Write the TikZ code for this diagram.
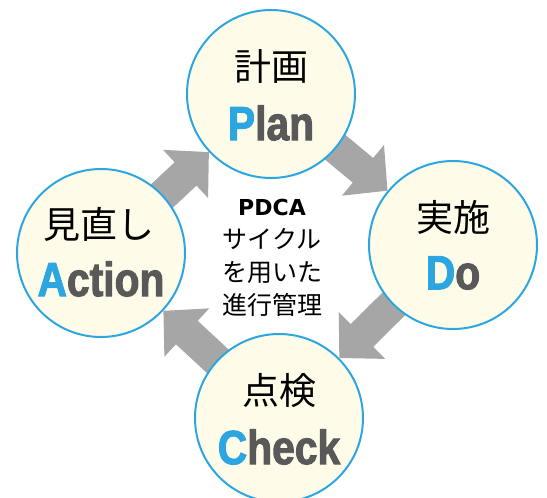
\documentclass[tikz,border=0pt]{standalone}
\usepackage{fontspec}
\usepackage{xcolor}
\usepackage{tikz}
\usetikzlibrary{arrows.meta,backgrounds}
\newfontfamily\jpfont{Noto Sans CJK JP}
\newfontfamily\latfont[FakeStretch=0.85,FakeBold=2]{Liberation Sans}
\newfontfamily\pdcafont{DejaVu Sans}
\definecolor{pblue}{HTML}{2CA6E0}
\definecolor{pgray}{HTML}{595959}
\definecolor{agray}{HTML}{A6A6A6}
\definecolor{pfill}{HTML}{FEFCE8}

\begin{document}
\begin{tikzpicture}[x=1pt,y=-1pt,
  phase/.style={circle,draw=pblue,line width=2pt,fill=pfill,minimum size=168pt,inner sep=0pt},
  jp/.style={font=\jpfont\fontsize{37}{40}\selectfont,inner sep=0pt},
  en/.style={font=\latfont\bfseries\fontsize{48}{50}\selectfont,text=pgray,inner sep=0pt},
  cyc/.style={line width=32pt,draw=agray,shorten <=-6pt,-{Triangle[length=32pt,width=64pt]}}]
  \useasboundingbox (0,0) rectangle (547,498);
  \draw (271,94) node[phase] (plan) {}
   (453,245) node[phase] (do) {}
   (279,418) node[phase] (check) {}
   (101,253) node[phase] (action) {};
  % japanese / english names
  \node[jp] (plan-jp) at ([yshift=28pt]plan.center) {計画};
  \node[en] (plan-en) at ([yshift=-29pt]plan.center) {\textcolor{pblue}{P}lan};
  \node[jp] (do-jp) at ([yshift=28pt]do.center) {実施};
  \node[en] (do-en) at ([yshift=-28pt]do.center) {\textcolor{pblue}{D}o};
  \node[jp] (check-jp) at ([yshift=27pt]check.center) {点検};
  \node[en] (check-en) at ([yshift=-29pt]check.center) {\textcolor{pblue}{C}heck};
  \node[jp] (action-jp) at ([xshift=-2pt,yshift=29pt]action.center) {見直し};
  \node[en] (action-en) at ([yshift=-26pt]action.center) {\textcolor{pblue}{A}ction};
  \node[align=center,font=\jpfont\fontsize{25}{33}\selectfont,inner sep=0pt] (cycle) at (272,258)
   {{\pdcafont\bfseries\fontsize{22}{33}\selectfont PDCA}\\サイクル\\を用いた\\進行管理};
  \begin{scope}[on background layer]
  \draw[cyc] (action) -- (plan);
  \draw[cyc] (plan) -- (do);
  \draw[cyc] (do) -- (check);
  \draw[cyc] (check) -- (action);
  \end{scope}
\end{tikzpicture}
\end{document}
